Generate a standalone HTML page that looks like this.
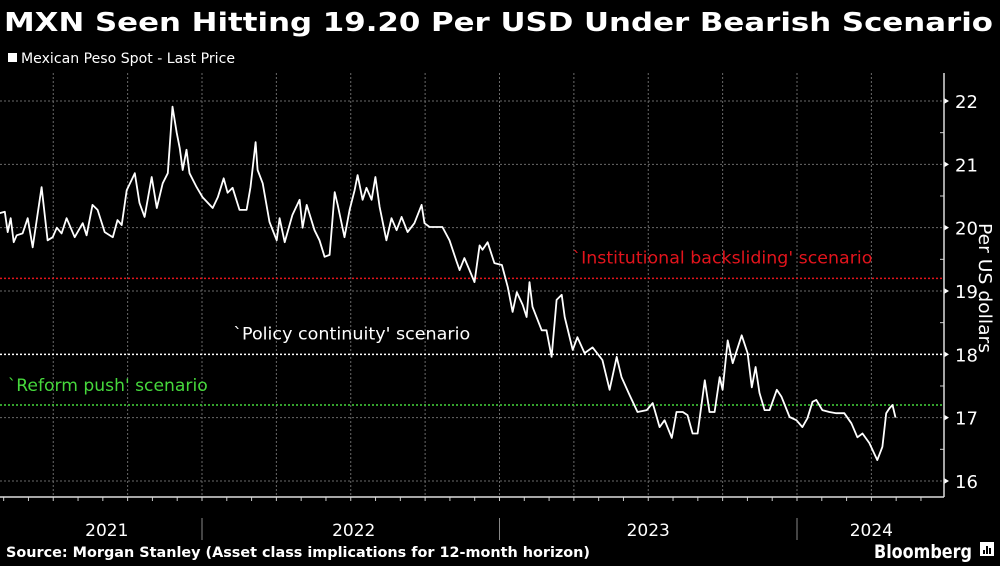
<!DOCTYPE html>
<html><head><meta charset="utf-8"><style>
html,body{margin:0;padding:0;background:#000;}
body{width:1000px;height:562px;overflow:hidden;position:relative;font-family:"DejaVu Sans","Liberation Sans",sans-serif;color:#fff;}
svg text{font-family:"DejaVu Sans","Liberation Sans",sans-serif;}
</style></head><body>
<svg id="chart" width="1000" height="562" viewBox="0 0 1000 562" xmlns="http://www.w3.org/2000/svg">
<rect x="0" y="0" width="1000" height="562" fill="#000"/>
<text x="4" y="31" font-size="26" font-weight="bold" fill="#fff" textLength="989" lengthAdjust="spacingAndGlyphs">MXN Seen Hitting 19.20 Per USD Under Bearish Scenario</text>
<rect x="8" y="53" width="9" height="9" fill="#fff"/>
<text x="21" y="63" font-size="14" fill="#fff" textLength="214" lengthAdjust="spacingAndGlyphs">Mexican Peso Spot - Last Price</text>
<g id="grid"></g>
<g id="refs"></g>
<g id="series"></g>
<g id="axes"></g>
<text transform="translate(979,288) rotate(90)" text-anchor="middle" font-size="18" fill="#fff" textLength="130" lengthAdjust="spacingAndGlyphs">Per US dollars</text>
<text x="6" y="557" font-size="14" font-weight="bold" fill="#fff" textLength="584" lengthAdjust="spacingAndGlyphs">Source: Morgan Stanley (Asset class implications for 12-month horizon)</text>
<text x="874" y="558" font-size="19" font-weight="bold" fill="#fff" textLength="98" lengthAdjust="spacingAndGlyphs">Bloomberg</text>
<g>
<rect x="980" y="542" width="14" height="14" fill="#fff"/>
<rect x="983" y="550" width="2" height="4" fill="#000"/><rect x="986" y="546" width="2" height="8" fill="#000"/><rect x="989" y="548" width="2" height="6" fill="#000"/>
</g>
</svg>
<script>
const dates=[2021.320,2021.337,2021.347,2021.357,2021.367,2021.377,2021.397,2021.414,2021.431,2021.461,2021.481,2021.498,2021.512,2021.528,2021.545,2021.572,2021.599,2021.612,2021.632,2021.649,2021.673,2021.700,2021.716,2021.730,2021.747,2021.774,2021.790,2021.807,2021.831,2021.848,2021.868,2021.885,2021.901,2021.915,2021.925,2021.935,2021.948,2021.958,2021.982,2022.002,2022.036,2022.053,2022.073,2022.086,2022.103,2022.126,2022.150,2022.163,2022.180,2022.187,2022.204,2022.227,2022.251,2022.261,2022.278,2022.304,2022.328,2022.338,2022.352,2022.378,2022.395,2022.412,2022.429,2022.446,2022.456,2022.479,2022.496,2022.513,2022.523,2022.540,2022.553,2022.570,2022.583,2022.597,2022.620,2022.637,2022.654,2022.671,2022.691,2022.714,2022.738,2022.748,2022.765,2022.808,2022.832,2022.856,2022.866,2022.882,2022.899,2022.916,2022.933,2022.943,2022.960,2022.983,2023.008,2023.028,2023.044,2023.058,2023.078,2023.091,2023.101,2023.111,2023.142,2023.158,2023.175,2023.192,2023.209,2023.219,2023.246,2023.262,2023.286,2023.313,2023.346,2023.370,2023.394,2023.410,2023.437,2023.464,2023.495,2023.515,2023.538,2023.555,2023.579,2023.595,2023.616,2023.632,2023.649,2023.666,2023.690,2023.706,2023.723,2023.740,2023.750,2023.767,2023.784,2023.814,2023.834,2023.848,2023.861,2023.874,2023.891,2023.908,2023.932,2023.948,2023.975,2023.998,2024.018,2024.035,2024.052,2024.065,2024.085,2024.109,2024.132,2024.159,2024.183,2024.203,2024.220,2024.243,2024.270,2024.287,2024.300,2024.311,2024.321,2024.331];
const prices=[20.23,20.25,19.93,20.15,19.77,19.88,19.91,20.15,19.69,20.64,19.80,19.85,20.00,19.91,20.15,19.85,20.07,19.88,20.36,20.28,19.93,19.85,20.12,20.04,20.59,20.86,20.39,20.17,20.80,20.31,20.70,20.86,21.91,21.50,21.26,20.91,21.23,20.86,20.64,20.48,20.31,20.48,20.78,20.55,20.63,20.28,20.28,20.64,21.35,20.91,20.70,20.09,19.80,20.15,19.77,20.20,20.44,20.00,20.36,19.96,19.80,19.54,19.57,20.56,20.36,19.85,20.28,20.59,20.83,20.44,20.63,20.44,20.80,20.33,19.80,20.15,19.96,20.17,19.93,20.07,20.36,20.07,20.01,20.01,19.80,19.46,19.33,19.52,19.33,19.14,19.72,19.65,19.77,19.44,19.41,19.06,18.67,18.98,18.78,18.59,19.14,18.75,18.38,18.38,17.96,18.86,18.94,18.59,18.07,18.27,18.02,18.11,17.91,17.44,17.96,17.64,17.36,17.09,17.12,17.23,16.85,16.96,16.68,17.09,17.09,17.04,16.75,16.75,17.59,17.09,17.09,17.64,17.44,18.22,17.86,18.30,18.02,17.48,17.80,17.39,17.12,17.12,17.44,17.33,17.01,16.96,16.85,16.99,17.25,17.28,17.12,17.09,17.07,17.07,16.91,16.69,16.75,16.60,16.33,16.54,17.07,17.15,17.20,17.00];
const yTicks=[16,17,18,19,20,21,22];
const yearLabels=["2021","2022","2023","2024"];
const yearLabelPos=[2021.68,2022.51,2023.50,2024.25];
const yearStarts=[2022,2023,2024];
const scenarioValues=[19.20,18.00,17.20];
const scenarioLabels=["`Institutional backsliding' scenario","`Policy continuity' scenario","`Reform push' scenario"];
const scenarioColors=["#e3141c","#ffffff","#46d83c"];
const scenarioLabelAt=[2023.245,2022.105,2021.347];
const scenarioLabelWidths=[300,237,200];

const NS="http://www.w3.org/2000/svg";
const AX=944, AY=497;
function xs(t){return 202+(t-2022)*297.5;}
function ys(v){return 101+(22-v)*63.33;}
function mk(tag,attrs,parent){const e=document.createElementNS(NS,tag);for(const k in attrs)e.setAttribute(k,attrs[k]);parent.appendChild(e);return e;}
const grid=document.getElementById('grid'),refs=document.getElementById('refs'),series=document.getElementById('series'),axes=document.getElementById('axes');
yTicks.forEach(v=>{
 const l=mk('line',{x1:0,x2:AX,y1:ys(v),y2:ys(v),stroke:'#6a6a6a','stroke-width':1,'stroke-dasharray':'2,2'},grid);
 
 
 const t=mk('text',{x:AX+11,y:ys(v)+7,'font-size':18,fill:'#fff'},axes);
 
 
 t.textContent=String(v);
 mk('path',{d:`M${AX} ${ys(v)-3}L${AX+5} ${ys(v)}L${AX} ${ys(v)+3}Z`,fill:'#fff'},axes);
 if(v<22){const m=mk('line',{x1:AX-4,x2:AX,y1:ys(v+0.5),y2:ys(v+0.5),stroke:'#ccc'},axes);
 
 }
});
for(let y=2021;y<=2024;y++){for(let q=0;q<4;q++){const t=y+q/4;const x=xs(t);if(x<2||x>AX-2)continue;
 const l=mk('line',{x1:x,x2:x,y1:73,y2:AY,stroke:'#6a6a6a','stroke-width':1,'stroke-dasharray':'2,2'},grid);
 
 }}
for(let y=2021;y<=2024;y++){for(let m=0;m<12;m++){const x=xs(y+m/12);if(x<0||x>AX)continue;
 const l=mk('line',{x1:x,x2:x,y1:AY,y2:AY+4,stroke:'#ccc'},axes);
 
 }}
scenarioValues.forEach((v,i)=>{
 const l=mk('line',{x1:0,x2:AX,y1:ys(v),y2:ys(v),stroke:scenarioColors[i],'stroke-width':1.5,'stroke-dasharray':'2,2'},refs);
 
 
 const off=[15,15,14][i];
 const t=mk('text',{x:xs(scenarioLabelAt[i]),y:ys(v)-off,'font-size':17,fill:scenarioColors[i],textLength:scenarioLabelWidths[i],lengthAdjust:'spacingAndGlyphs'},refs);
 
 
 t.textContent=scenarioLabels[i];
});
let d='';dates.forEach((t,i)=>{d+=(i?'L':'M')+xs(t).toFixed(1)+' '+ys(prices[i]).toFixed(1);});
const p=mk('path',{d:d,fill:'none',stroke:'#fff','stroke-width':1.8,'stroke-linejoin':'round'},series);


const ya=mk('line',{x1:AX,x2:AX,y1:73,y2:AY,stroke:'#ddd','stroke-width':1.5},axes);


const xa=mk('line',{x1:0,x2:AX,y1:AY,y2:AY,stroke:'#ddd','stroke-width':1.5},axes);


yearStarts.forEach(t=>{const l=mk('line',{x1:xs(t),x2:xs(t),y1:518,y2:540,stroke:'#888','stroke-width':1},axes);
 
 });
yearLabels.forEach((s,i)=>{const t=mk('text',{x:xs(yearLabelPos[i]),y:536,'font-size':17,fill:'#fff','text-anchor':'middle'},axes);
 
 
 t.textContent=s;});
</script>
</body></html>
